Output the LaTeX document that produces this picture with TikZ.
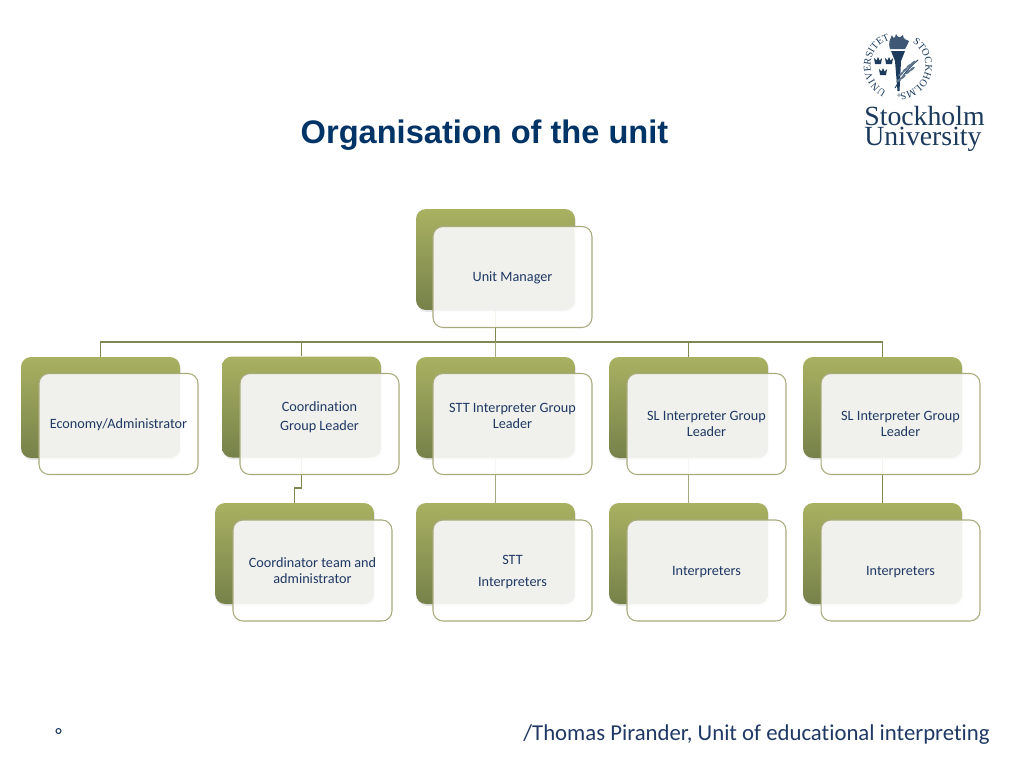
\documentclass[tikz,border=0pt]{standalone}
\usepackage{fontspec}
\setmainfont[RawFeature={-liga}]{Carlito}
\newfontfamily\titlefont{Liberation Sans}
\newfontfamily\logofont{Liberation Serif}
\usetikzlibrary{decorations.text,shadows}
\definecolor{oliveup}{HTML}{A9B161}
\definecolor{olivemid}{HTML}{A3AB5D}
\definecolor{olivedown}{HTML}{76814A}
\definecolor{oliveline}{HTML}{7F8650}
\definecolor{olivepale}{HTML}{A5A87E}
\definecolor{oliveedge}{HTML}{A9AB7C}
\definecolor{facegray}{HTML}{F0F1EC}
\definecolor{boxtext}{HTML}{1F3864}
\definecolor{titleblue}{HTML}{003366}
\definecolor{logoblue}{HTML}{1B3A5C}
\tikzset{
    backbox/.style={rounded corners=0.2cm,minimum width=3.18cm,minimum height=2.02cm,inner sep=0pt,
        drop shadow={opacity=0.2,shadow xshift=0.02cm,shadow yshift=-0.04cm},
        top color=oliveup,middle color=olivemid,bottom color=olivedown},
    frontbox/.style={draw=oliveedge,line width=0.6pt,rounded corners=0.2cm,fill=white,fill opacity=0.9,text opacity=1,
        minimum width=3.18cm,minimum height=2.02cm,inner sep=0pt,align=center,text=boxtext,
        font=\fontsize{8.1}{9.1}\selectfont,
        path picture={\fill[facegray,fill opacity=1,sharp corners] (path picture bounding box.north west) -- ++(2.82cm,0)
            [rounded corners=0.2cm] -- ++(0,-1.68cm) [sharp corners] -- ++(-2.82cm,0) -- cycle;}},
    oneline/.style={text depth=0pt},
    boxlabel/.style={align=center,text=boxtext,font=\fontsize{8.1}{9.9}\selectfont},
    link/.style={draw=oliveline,line width=0.6pt},
    boldlink/.style={draw=oliveline,line width=1.1pt},
    palelink/.style={draw=olivepale,line width=0.6pt},
    sealtext/.style={decorate,decoration={text along path,text align={fit to path},
        text={|\logofont\fontsize{5.8}{7}\selectfont\color{logoblue}|#1{ }{ }}}}
}
\begin{document}
\begin{tikzpicture}[x=0.02cm,y=-0.02cm]
        \useasboundingbox (0,0) rectangle (1024,768);
        \node[text=titleblue,font=\titlefont\bfseries\fontsize{18.55}{22}\selectfont] (title) at (484.5,135) {Organisation of the unit};

        \node[backbox] (unitback) at (495.5,259.5) {};
        \node[backbox] (ecoback) at (100.5,407.5) {};
        \node[backbox] (cooback) at (301.5,407) {};
        \node[backbox] (sttback) at (495.5,407.5) {};
        \node[backbox] (slaback) at (688.5,407.5) {};
        \node[backbox] (slbback) at (882.5,407.5) {};
        \node[backbox] (teamback) at (294.5,553.5) {};
        \node[backbox] (stfback) at (495.5,553.5) {};
        \node[backbox] (inaback) at (688.5,553.5) {};
        \node[backbox] (inbback) at (882.5,553.5) {};

        \coordinate (bus) at (495.5,342);
        \coordinate (jog) at (298,488);
        \draw[link] (bus) -| (ecoback.north);
        \draw[boldlink] (bus) -| (cooback.north);
        \draw[palelink] (bus) -- (sttback.north);
        \draw[link] (bus) -| (slaback.north);
        \draw[link] (bus) -| (slbback.north);
        \draw[boldlink] (unitback.south) -- (bus);
        \draw[link] (cooback.south) |- (jog) -| (teamback.north);
        \draw[palelink] (sttback.south) -- (stfback.north);
        \draw[palelink] (slaback.south) -- (inaback.north);
        \draw[link] (slbback.south) -- (inbback.north);

        \node[frontbox,oneline] (unitbox) at (512.5,277) {Unit Manager};
        \node[frontbox,oneline] (ecobox) at (118.5,424) {Economy/Administrator};
        \node[frontbox,label={[boxlabel,yshift=0.135cm]center:Coordination\\[0.6pt]Group Leader}] (coobox) at (319.5,424) {};
        \node[frontbox,label={[boxlabel,yshift=0.165cm]center:STT Interpreter Group\\[-0.9pt]Leader}] (sttbox) at (512.5,424) {};
        \node[frontbox] (slabox) at (706.5,424) {SL Interpreter Group\\Leader};
        \node[frontbox] (slbbox) at (900.5,424) {SL Interpreter Group\\Leader};
        \node[frontbox] (teambox) at (312.5,570.5) {Coordinator team and\\administrator};
        \node[frontbox,oneline] (stfbox) at (512.5,570.5) {STT\\[3.4pt]Interpreters};
        \node[frontbox,oneline] (inabox) at (706.5,570.5) {Interpreters};
        \node[frontbox,oneline] (inbbox) at (900.5,570.5) {Interpreters};

        \node[circle,draw=logoblue,line width=0.6pt,inner sep=0pt,minimum size=0.1cm] (bullet) at (58.5,731) {};
        \node[anchor=east,text=boxtext,font=\fontsize{12.95}{15}\selectfont,inner sep=0pt] (credit) at (990,735) {/Thomas Pirander, Unit of educational interpreting};

        \node[anchor=west,text=logoblue,font=\logofont\fontsize{15.8}{18}\selectfont,inner sep=0pt] (logoa) at (864,116) {Stockholm};
        \node[anchor=west,text=logoblue,font=\logofont\fontsize{15.8}{18}\selectfont,inner sep=0pt] (logob) at (864,139.5) {University};
        \begin{scope}[shift={(898,66)},x=0.02cm,y=0.02cm]
            \path[sealtext={UNIVERSITET}] (245:27.5) arc[start angle=245,end angle=105,radius=27.5];
            \path[sealtext={STOCKHOLMS}] (58:27.5) arc[start angle=58,end angle=-88,radius=27.5];
            \node[text=logoblue,font=\logofont\fontsize{5}{6}\selectfont] (sealplus) at (1,-30) {+};
            \fill[logoblue] (-7,15) -- (7,15) -- (3,5) -- (1.5,-25) -- (-0.5,-25) -- (-3,5) -- cycle;
            \fill[logoblue!85] (-8,17) .. controls (-10,24) and (-8,26) .. (-6,31) .. controls (-5,27) and (-3,27) .. (-2,32) .. controls (0,28) and (2,28) .. (5,31) .. controls (5,27) and (8,26) .. (11,25) .. controls (9,22) and (9,19) .. (7,17) -- cycle;
            \draw[logoblue,line width=0.5pt] (-3,-22) .. controls (3,-12) and (10,-2) .. (20,6);
            \foreach \lx/\ly in {3/-8,7/-4,11/0,15/3,1/-14,5/-11,10/-6,14/-3}
                \fill[logoblue!70,rotate around={40:(\lx,\ly)}] (\lx,\ly) ellipse (3.5 and 1.2);
            \foreach \cx/\cy in {-20/5,-9/5,-15/-6}
                \fill[logoblue] (\cx-3,\cy-3) -- (\cx+3,\cy-3) -- (\cx+4,\cy+3) -- (\cx+1.5,\cy+0.5) -- (\cx,\cy+4) -- (\cx-1.5,\cy+0.5) -- (\cx-4,\cy+3) -- cycle;
        \end{scope}
    \end{tikzpicture}
\end{document}
